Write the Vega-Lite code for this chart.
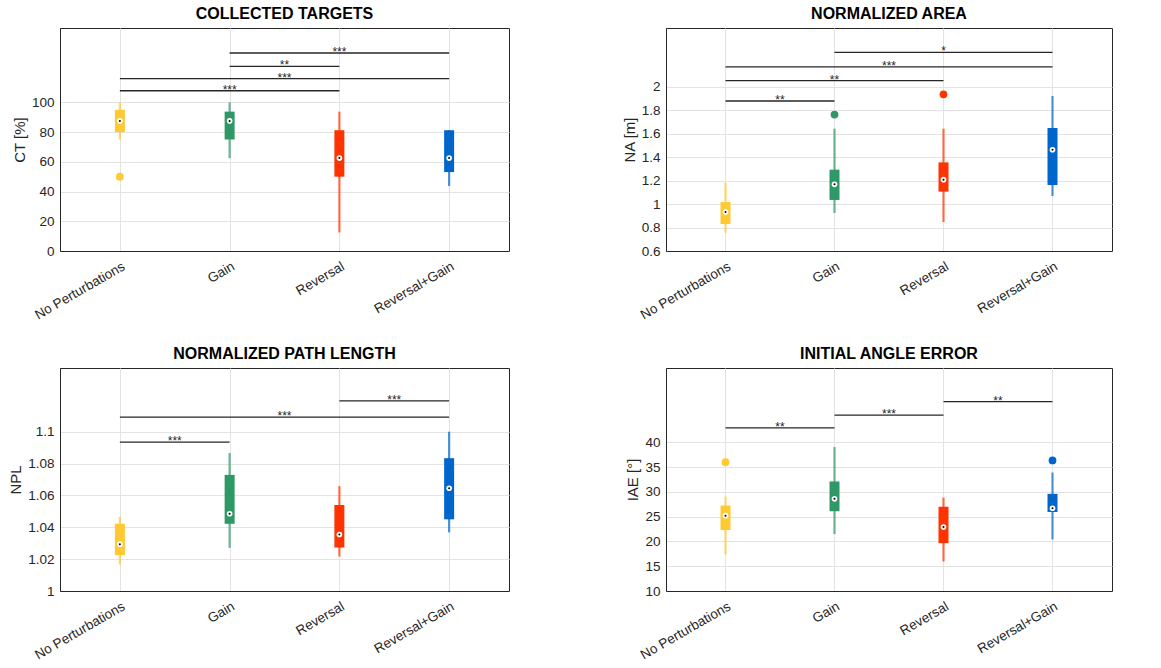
{
  "$schema": "https://vega.github.io/schema/vega-lite/v6.json",
  "padding": {"left": 8, "top": 5, "right": 5, "bottom": 5},
  "background": "white",
  "config": {
    "font": "Liberation Sans",
    "view": {"stroke": "#262626", "strokeWidth": 1},
    "axis": {
      "gridColor": "#e3e3e3", "gridWidth": 1, "domainColor": "#262626", "domainWidth": 1,
      "ticks": false, "labelFont": "Liberation Sans", "labelFontSize": 13.5, "labelOverlap": false,
      "labelColor": "#262626", "titleFont": "Liberation Sans", "titleFontSize": 15, "titleFontWeight": "normal",
      "titleColor": "#262626", "labelPadding": 6, "tickCount": 30
    },
    "axisX": {"labelAngle": 330, "labelAlign": "right", "labelBaseline": "top", "title": null, "labelPadding": 8},
    "title": {"font": "Liberation Sans", "fontSize": 16, "fontWeight": "bold", "color": "#000000", "offset": 6},
    "legend": {"disable": true}
  },
  "datasets": {
    "ct": [
      {"pos": 1, "group": "No Perturbations", "lo": 75, "q1": 80, "med": 87.5, "q3": 95, "hi": 100, "out": 50},
      {"pos": 2, "group": "Gain", "lo": 62.5, "q1": 75, "med": 87.5, "q3": 93.75, "hi": 100, "out": null},
      {"pos": 3, "group": "Reversal", "lo": 12.5, "q1": 50, "med": 62.5, "q3": 81.25, "hi": 93.75, "out": null},
      {"pos": 4, "group": "Reversal+Gain", "lo": 43.75, "q1": 53.1, "med": 62.5, "q3": 81.25, "hi": 81.25, "out": null}
    ],
    "ct_sig": [
      {"a": 2, "b": 4, "y": 133.2, "label": "***"},
      {"a": 2, "b": 3, "y": 124.2, "label": "**"},
      {"a": 1, "b": 4, "y": 115.9, "label": "***"},
      {"a": 1, "b": 3, "y": 107.8, "label": "***"}
    ],
    "na": [
      {"pos": 1, "group": "No Perturbations", "lo": 0.756, "q1": 0.83, "med": 0.932, "q3": 1.017, "hi": 1.182, "out": null},
      {"pos": 2, "group": "Gain", "lo": 0.924, "q1": 1.035, "med": 1.168, "q3": 1.293, "hi": 1.642, "out": 1.762},
      {"pos": 3, "group": "Reversal", "lo": 0.847, "q1": 1.106, "med": 1.208, "q3": 1.355, "hi": 1.642, "out": 1.935},
      {"pos": 4, "group": "Reversal+Gain", "lo": 1.069, "q1": 1.162, "med": 1.463, "q3": 1.648, "hi": 1.921, "out": null}
    ],
    "na_sig": [
      {"a": 2, "b": 4, "y": 2.293, "label": "*"},
      {"a": 1, "b": 4, "y": 2.168, "label": "***"},
      {"a": 1, "b": 3, "y": 2.051, "label": "**"},
      {"a": 1, "b": 2, "y": 1.878, "label": "**"}
    ],
    "npl": [
      {"pos": 1, "group": "No Perturbations", "lo": 1.0166, "q1": 1.0225, "med": 1.0294, "q3": 1.0422, "hi": 1.0466, "out": null},
      {"pos": 2, "group": "Gain", "lo": 1.0271, "q1": 1.0422, "med": 1.0485, "q3": 1.0729, "hi": 1.0866, "out": null},
      {"pos": 3, "group": "Reversal", "lo": 1.0216, "q1": 1.0273, "med": 1.0355, "q3": 1.054, "hi": 1.0658, "out": null},
      {"pos": 4, "group": "Reversal+Gain", "lo": 1.0368, "q1": 1.045, "med": 1.0645, "q3": 1.0834, "hi": 1.1, "out": null}
    ],
    "npl_sig": [
      {"a": 3, "b": 4, "y": 1.1193, "label": "***"},
      {"a": 1, "b": 4, "y": 1.1092, "label": "***"},
      {"a": 1, "b": 2, "y": 1.0935, "label": "***"}
    ],
    "iae": [
      {"pos": 1, "group": "No Perturbations", "lo": 17.4, "q1": 22.3, "med": 25.2, "q3": 27.23, "hi": 29.05, "out": 36.0},
      {"pos": 2, "group": "Gain", "lo": 21.5, "q1": 26.1, "med": 28.6, "q3": 32.1, "hi": 39.05, "out": null},
      {"pos": 3, "group": "Reversal", "lo": 15.95, "q1": 19.66, "med": 22.9, "q3": 27.0, "hi": 28.85, "out": null},
      {"pos": 4, "group": "Reversal+Gain", "lo": 20.4, "q1": 25.95, "med": 26.7, "q3": 29.6, "hi": 33.9, "out": 36.35}
    ],
    "iae_sig": [
      {"a": 3, "b": 4, "y": 48.2, "label": "**"},
      {"a": 2, "b": 3, "y": 45.5, "label": "***"},
      {"a": 1, "b": 2, "y": 42.9, "label": "**"}
    ]
  },
  "concat": [
    {
      "width": 449, "height": 223,
      "title": "COLLECTED TARGETS",
      "layer": [
        {"data": {"name": "ct"}, "mark": {"type": "rule", "strokeWidth": 2.2, "opacity": 0.7},
          "encoding": {
            "x": {"field": "pos", "type": "quantitative", "scale": {"domain": [0.5, 4.5], "nice": false, "zero": false},
              "axis": {"values": [1, 2, 3, 4], "labelExpr": "['','No Perturbations','Gain','Reversal','Reversal+Gain'][datum.value]"}},
            "y": {"field": "lo", "type": "quantitative", "title": "CT [%]", "scale": {"domain": [0, 150], "nice": false, "zero": false},
              "axis": {"values": [0, 20, 40, 60, 80, 100], "format": "~r"}},
            "y2": {"field": "hi"},
            "color": {"field": "group", "type": "nominal", "scale": {"domain": ["No Perturbations", "Gain", "Reversal", "Reversal+Gain"], "range": ["#FFC933", "#2E9966", "#FF3300", "#0066CC"]}}
          }},
        {"data": {"name": "ct"}, "mark": {"type": "bar", "width": 10},
          "encoding": {"x": {"field": "pos", "type": "quantitative"}, "y": {"field": "q1", "type": "quantitative"}, "y2": {"field": "q3"},
            "color": {"field": "group", "type": "nominal"}}},
        {"data": {"name": "ct"}, "mark": {"type": "point", "filled": true, "opacity": 1, "size": 60},
          "encoding": {"x": {"field": "pos", "type": "quantitative"}, "y": {"field": "out", "type": "quantitative"},
            "color": {"field": "group", "type": "nominal"}}},
        {"data": {"name": "ct"}, "mark": {"type": "point", "filled": true, "opacity": 1, "size": 32, "color": "white"},
          "encoding": {"x": {"field": "pos", "type": "quantitative"}, "y": {"field": "med", "type": "quantitative"}}},
        {"data": {"name": "ct"}, "mark": {"type": "point", "filled": true, "opacity": 1, "size": 4, "color": "black"},
          "encoding": {"x": {"field": "pos", "type": "quantitative"}, "y": {"field": "med", "type": "quantitative"}}},
        {"data": {"name": "ct_sig"}, "mark": {"type": "rule", "color": "#262626", "strokeWidth": 1.3},
          "encoding": {"x": {"field": "a", "type": "quantitative"}, "x2": {"field": "b"}, "y": {"field": "y", "type": "quantitative"}}},
        {"data": {"name": "ct_sig"}, "transform": [{"calculate": "(datum.a + datum.b) / 2", "as": "m"}],
          "mark": {"type": "text", "fontSize": 12, "baseline": "alphabetic", "dy": 3, "color": "#262626"},
          "encoding": {"x": {"field": "m", "type": "quantitative"}, "y": {"field": "y", "type": "quantitative"}, "text": {"field": "label"}}}
      ]
    },
    {
      "width": 446, "height": 223,
      "title": "NORMALIZED AREA",
      "layer": [
        {"data": {"name": "na"}, "mark": {"type": "rule", "strokeWidth": 2.2, "opacity": 0.7},
          "encoding": {
            "x": {"field": "pos", "type": "quantitative", "scale": {"domain": [0.5, 4.5], "nice": false, "zero": false},
              "axis": {"values": [1, 2, 3, 4], "labelExpr": "['','No Perturbations','Gain','Reversal','Reversal+Gain'][datum.value]"}},
            "y": {"field": "lo", "type": "quantitative", "title": "NA [m]", "scale": {"domain": [0.6, 2.5], "nice": false, "zero": false},
              "axis": {"values": [0.6, 0.8, 1, 1.2, 1.4, 1.6, 1.8, 2], "format": "~r", "tickCount": 30}},
            "y2": {"field": "hi"},
            "color": {"field": "group", "type": "nominal", "scale": {"domain": ["No Perturbations", "Gain", "Reversal", "Reversal+Gain"], "range": ["#FFC933", "#2E9966", "#FF3300", "#0066CC"]}}
          }},
        {"data": {"name": "na"}, "mark": {"type": "bar", "width": 10},
          "encoding": {"x": {"field": "pos", "type": "quantitative"}, "y": {"field": "q1", "type": "quantitative"}, "y2": {"field": "q3"},
            "color": {"field": "group", "type": "nominal"}}},
        {"data": {"name": "na"}, "mark": {"type": "point", "filled": true, "opacity": 1, "size": 60},
          "encoding": {"x": {"field": "pos", "type": "quantitative"}, "y": {"field": "out", "type": "quantitative"},
            "color": {"field": "group", "type": "nominal"}}},
        {"data": {"name": "na"}, "mark": {"type": "point", "filled": true, "opacity": 1, "size": 32, "color": "white"},
          "encoding": {"x": {"field": "pos", "type": "quantitative"}, "y": {"field": "med", "type": "quantitative"}}},
        {"data": {"name": "na"}, "mark": {"type": "point", "filled": true, "opacity": 1, "size": 4, "color": "black"},
          "encoding": {"x": {"field": "pos", "type": "quantitative"}, "y": {"field": "med", "type": "quantitative"}}},
        {"data": {"name": "na_sig"}, "mark": {"type": "rule", "color": "#262626", "strokeWidth": 1.3},
          "encoding": {"x": {"field": "a", "type": "quantitative"}, "x2": {"field": "b"}, "y": {"field": "y", "type": "quantitative"}}},
        {"data": {"name": "na_sig"}, "transform": [{"calculate": "(datum.a + datum.b) / 2", "as": "m"}],
          "mark": {"type": "text", "fontSize": 12, "baseline": "alphabetic", "dy": 3, "color": "#262626"},
          "encoding": {"x": {"field": "m", "type": "quantitative"}, "y": {"field": "y", "type": "quantitative"}, "text": {"field": "label"}}}
      ]
    },
    {
      "width": 449, "height": 223,
      "title": "NORMALIZED PATH LENGTH",
      "layer": [
        {"data": {"name": "npl"}, "mark": {"type": "rule", "strokeWidth": 2.2, "opacity": 0.7},
          "encoding": {
            "x": {"field": "pos", "type": "quantitative", "scale": {"domain": [0.5, 4.5], "nice": false, "zero": false},
              "axis": {"values": [1, 2, 3, 4], "labelExpr": "['','No Perturbations','Gain','Reversal','Reversal+Gain'][datum.value]"}},
            "y": {"field": "lo", "type": "quantitative", "title": "NPL", "scale": {"domain": [1, 1.14], "nice": false, "zero": false},
              "axis": {"values": [1, 1.02, 1.04, 1.06, 1.08, 1.1], "format": "~r"}},
            "y2": {"field": "hi"},
            "color": {"field": "group", "type": "nominal", "scale": {"domain": ["No Perturbations", "Gain", "Reversal", "Reversal+Gain"], "range": ["#FFC933", "#2E9966", "#FF3300", "#0066CC"]}}
          }},
        {"data": {"name": "npl"}, "mark": {"type": "bar", "width": 10},
          "encoding": {"x": {"field": "pos", "type": "quantitative"}, "y": {"field": "q1", "type": "quantitative"}, "y2": {"field": "q3"},
            "color": {"field": "group", "type": "nominal"}}},
        {"data": {"name": "npl"}, "mark": {"type": "point", "filled": true, "opacity": 1, "size": 32, "color": "white"},
          "encoding": {"x": {"field": "pos", "type": "quantitative"}, "y": {"field": "med", "type": "quantitative"}}},
        {"data": {"name": "npl"}, "mark": {"type": "point", "filled": true, "opacity": 1, "size": 4, "color": "black"},
          "encoding": {"x": {"field": "pos", "type": "quantitative"}, "y": {"field": "med", "type": "quantitative"}}},
        {"data": {"name": "npl_sig"}, "mark": {"type": "rule", "color": "#262626", "strokeWidth": 1.3},
          "encoding": {"x": {"field": "a", "type": "quantitative"}, "x2": {"field": "b"}, "y": {"field": "y", "type": "quantitative"}}},
        {"data": {"name": "npl_sig"}, "transform": [{"calculate": "(datum.a + datum.b) / 2", "as": "m"}],
          "mark": {"type": "text", "fontSize": 12, "baseline": "alphabetic", "dy": 3, "color": "#262626"},
          "encoding": {"x": {"field": "m", "type": "quantitative"}, "y": {"field": "y", "type": "quantitative"}, "text": {"field": "label"}}}
      ]
    },
    {
      "width": 446, "height": 223,
      "title": "INITIAL ANGLE ERROR",
      "layer": [
        {"data": {"name": "iae"}, "mark": {"type": "rule", "strokeWidth": 2.2, "opacity": 0.7},
          "encoding": {
            "x": {"field": "pos", "type": "quantitative", "scale": {"domain": [0.5, 4.5], "nice": false, "zero": false},
              "axis": {"values": [1, 2, 3, 4], "labelExpr": "['','No Perturbations','Gain','Reversal','Reversal+Gain'][datum.value]"}},
            "y": {"field": "lo", "type": "quantitative", "title": "IAE [°]", "scale": {"domain": [10, 55], "nice": false, "zero": false},
              "axis": {"values": [10, 15, 20, 25, 30, 35, 40], "format": "~r", "tickCount": 30}},
            "y2": {"field": "hi"},
            "color": {"field": "group", "type": "nominal", "scale": {"domain": ["No Perturbations", "Gain", "Reversal", "Reversal+Gain"], "range": ["#FFC933", "#2E9966", "#FF3300", "#0066CC"]}}
          }},
        {"data": {"name": "iae"}, "mark": {"type": "bar", "width": 10},
          "encoding": {"x": {"field": "pos", "type": "quantitative"}, "y": {"field": "q1", "type": "quantitative"}, "y2": {"field": "q3"},
            "color": {"field": "group", "type": "nominal"}}},
        {"data": {"name": "iae"}, "mark": {"type": "point", "filled": true, "opacity": 1, "size": 60},
          "encoding": {"x": {"field": "pos", "type": "quantitative"}, "y": {"field": "out", "type": "quantitative"},
            "color": {"field": "group", "type": "nominal"}}},
        {"data": {"name": "iae"}, "mark": {"type": "point", "filled": true, "opacity": 1, "size": 32, "color": "white"},
          "encoding": {"x": {"field": "pos", "type": "quantitative"}, "y": {"field": "med", "type": "quantitative"}}},
        {"data": {"name": "iae"}, "mark": {"type": "point", "filled": true, "opacity": 1, "size": 4, "color": "black"},
          "encoding": {"x": {"field": "pos", "type": "quantitative"}, "y": {"field": "med", "type": "quantitative"}}},
        {"data": {"name": "iae_sig"}, "mark": {"type": "rule", "color": "#262626", "strokeWidth": 1.3},
          "encoding": {"x": {"field": "a", "type": "quantitative"}, "x2": {"field": "b"}, "y": {"field": "y", "type": "quantitative"}}},
        {"data": {"name": "iae_sig"}, "transform": [{"calculate": "(datum.a + datum.b) / 2", "as": "m"}],
          "mark": {"type": "text", "fontSize": 12, "baseline": "alphabetic", "dy": 3, "color": "#262626"},
          "encoding": {"x": {"field": "m", "type": "quantitative"}, "y": {"field": "y", "type": "quantitative"}, "text": {"field": "label"}}}
      ]
    }
  ],
  "columns": 2,
  "bounds": "flush",
  "spacing": {"column": 157, "row": 117}
}
